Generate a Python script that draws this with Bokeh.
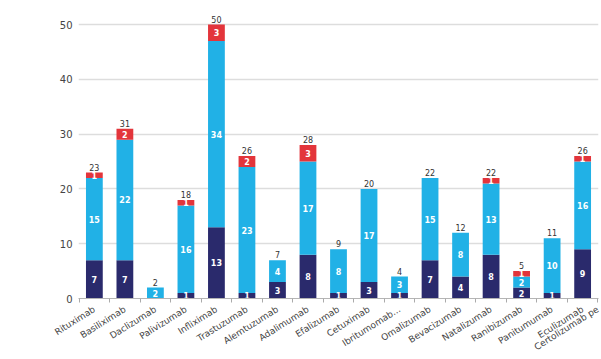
from bokeh.plotting import figure
from bokeh.models import ColumnDataSource, Range1d, FixedTicker
from bokeh.core.properties import value
from bokeh.embed import file_html
from bokeh.resources import INLINE

drugs = ["Rituximab", "Basiliximab", "Daclizumab", "Palivizumab", "Infliximab",
         "Trastuzumab", "Alemtuzumab", "Adalimumab", "Efalizumab", "Cetuximab",
         "Ibritumomab...", "Omalizumab", "Bevacizumab", "Natalizumab", "Ranibizumab",
         "Panitumumab", "Eculizumab"]
# next category, whose bar lies past the right edge of the picture (only part of its label shows)
cut_off_label = "Certolizumab pe"
low = [7, 7, 0, 1, 13, 1, 3, 8, 1, 3, 1, 7, 4, 8, 2, 1, 9]
mid = [15, 22, 2, 16, 34, 23, 4, 17, 8, 17, 3, 15, 8, 13, 2, 10, 16]
high = [1, 2, 0, 1, 3, 2, 0, 3, 0, 0, 0, 0, 0, 1, 1, 0, 1]
y_ticks = [0, 10, 20, 30, 40, 50]

NAVY = "#2a2a6c"
BLUE = "#21b1e6"
RED = "#e3353b"
FONT = "DejaVu Sans"
ANGLE = 0.56

n = len(drugs)
xs = list(range(n))
totals = [a + b + c for a, b, c in zip(low, mid, high)]

src = ColumnDataSource(dict(x=xs, low=low, mid=mid, high=high, total=totals))

seg_x, seg_y, seg_t = [], [], []
for i in range(n):
    base = 0
    for v in (low[i], mid[i], high[i]):
        if v > 0:
            seg_x.append(i)
            seg_y.append(base + v / 2)
            seg_t.append(str(v))
        base += v
seg_src = ColumnDataSource(dict(x=seg_x, y=seg_y, t=seg_t))
tot_src = ColumnDataSource(dict(x=xs, y=totals, t=[str(t) for t in totals]))

W, H = 600, 359
LEFT, RIGHT, TOP, BOTTOM = 78, 2, 0, 61
X0, X1 = -0.52, n - 0.48
Y1 = 54.4

p = figure(width=W, height=H, output_backend="svg", toolbar_location=None,
           x_range=Range1d(X0, X1), y_range=Range1d(0, Y1),
           min_border_left=LEFT, min_border_right=RIGHT, min_border_top=TOP,
           min_border_bottom=BOTTOM)
p.outline_line_color = None

p.vbar_stack(["low", "mid", "high"], x="x", width=0.55, source=src,
             fill_color=[NAVY, BLUE, RED], line_color=None)

p.text(x="x", y="y", text="t", source=seg_src, text_color="white",
       text_font=value(FONT), text_font_size="8px", text_font_style="bold",
       text_align="center", text_baseline="middle")
p.text(x="x", y="y", text="t", source=tot_src, text_color="#333333",
       text_font=value(FONT), text_font_size="8px",
       text_align="center", text_baseline="bottom", y_offset=-2)

p.yaxis.ticker = FixedTicker(ticks=y_ticks)
p.ygrid.ticker = FixedTicker(ticks=y_ticks)
p.yaxis.axis_line_color = None
p.yaxis.major_tick_line_color = None
p.yaxis.major_tick_out = 0
p.yaxis.minor_tick_line_color = None
p.yaxis.major_label_standoff = 6
p.yaxis.major_label_text_font = FONT
p.yaxis.major_label_text_font_size = "10px"
p.yaxis.major_label_text_color = "#444444"
p.ygrid.grid_line_color = "#dddddd"
p.ygrid.grid_line_width = 1.5
p.xgrid.grid_line_color = None

# the cut-off category's label is shown ending at the right edge of the picture
edge_tick = X1 - 0.001
labels = {i: d for i, d in enumerate(drugs)}
labels[edge_tick] = cut_off_label
p.xaxis.ticker = FixedTicker(ticks=xs + [edge_tick],
                             minor_ticks=[i - 0.5 for i in range(n + 1)])
p.xaxis.major_label_overrides = labels
p.xaxis.major_tick_line_color = None
p.xaxis.major_tick_out = 0
p.xaxis.major_tick_in = 0
p.xaxis.major_label_standoff = 6
p.xaxis.minor_tick_line_color = "#aaaaaa"
p.xaxis.minor_tick_out = 4
p.xaxis.minor_tick_in = 0
p.xaxis.axis_line_color = "#b5b5b5"
p.xaxis.major_label_orientation = ANGLE
p.xaxis.major_label_text_font = FONT
p.xaxis.major_label_text_font_size = "9px"
p.xaxis.major_label_text_color = "#444444"

open("out.html", "w").write(file_html(p, INLINE))
